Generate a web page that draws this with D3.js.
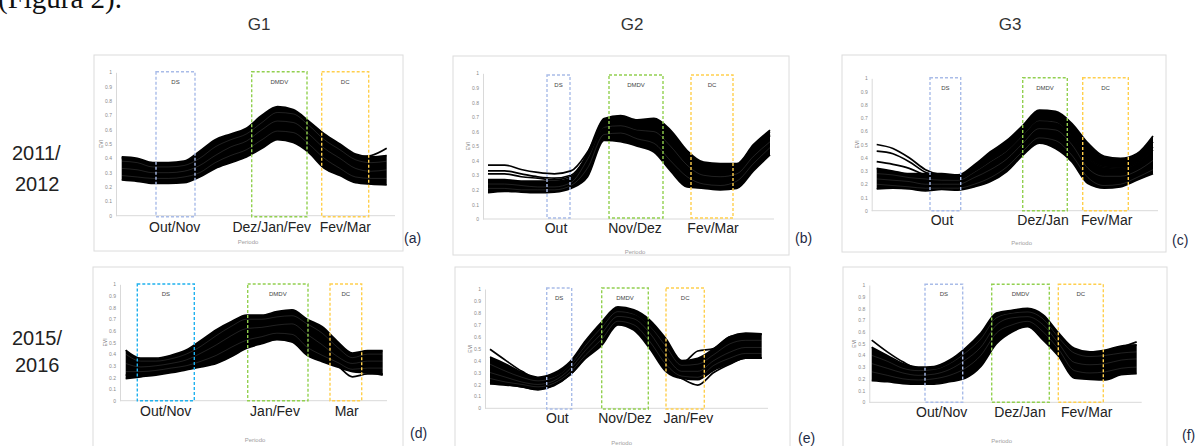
<!DOCTYPE html>
<html>
<head>
<meta charset="utf-8">
<script src="https://cdn.jsdelivr.net/npm/d3@7"></script>
<style>
body { margin: 0; background: #fff; }
svg { display: block; }
</style>
</head>
<body>
<svg id="fig" width="1195" height="446"></svg>
<script>
// EVI profiles (18 composites per season).
// eviX = curves that make up the dense black band, outX = curves that stand apart from it
var eviA = [
	[0.41,0.40,0.37,0.37,0.38,0.45,0.53,0.57,0.61,0.70,0.76,0.74,0.66,0.57,0.50,0.43,0.41,0.42],
	[0.38,0.37,0.34,0.34,0.35,0.40,0.48,0.53,0.57,0.65,0.72,0.71,0.63,0.53,0.46,0.39,0.37,0.38],
	[0.33,0.32,0.30,0.30,0.31,0.35,0.42,0.48,0.52,0.60,0.66,0.65,0.57,0.47,0.40,0.33,0.31,0.32],
	[0.28,0.27,0.26,0.26,0.27,0.30,0.37,0.42,0.46,0.53,0.59,0.58,0.50,0.40,0.33,0.27,0.26,0.26],
	[0.25,0.24,0.225,0.225,0.23,0.27,0.33,0.37,0.41,0.47,0.53,0.51,0.44,0.33,0.28,0.23,0.22,0.215]
];
var outA = [
	[0.40,0.39,0.36,0.36,0.37,0.42,0.50,0.55,0.60,0.68,0.74,0.73,0.65,0.56,0.48,0.41,0.42,0.47]
];
var eviB = [
	[0.27,0.27,0.26,0.26,0.26,0.28,0.45,0.69,0.71,0.68,0.69,0.61,0.47,0.39,0.38,0.38,0.51,0.61],
	[0.24,0.24,0.23,0.22,0.22,0.25,0.41,0.63,0.64,0.61,0.60,0.50,0.37,0.30,0.29,0.31,0.43,0.53],
	[0.21,0.21,0.20,0.20,0.20,0.23,0.35,0.58,0.59,0.55,0.52,0.40,0.29,0.24,0.23,0.26,0.38,0.49],
	[0.18,0.19,0.185,0.18,0.185,0.21,0.29,0.54,0.53,0.50,0.46,0.33,0.22,0.21,0.20,0.21,0.33,0.44]
];
var outB = [
	[0.37,0.37,0.34,0.32,0.31,0.33,0.46,0.66,0.70,0.66,0.68,0.58,0.45,0.37,0.36,0.37,0.50,0.60],
	[0.33,0.33,0.31,0.29,0.28,0.30,0.44,0.65,0.68,0.63,0.66,0.55,0.42,0.34,0.33,0.35,0.48,0.58],
	[0.31,0.31,0.29,0.28,0.27,0.29,0.43,0.64,0.67,0.62,0.64,0.52,0.40,0.33,0.31,0.34,0.47,0.57]
];
var eviC = [
	[0.32,0.30,0.28,0.28,0.28,0.27,0.345,0.445,0.53,0.645,0.76,0.75,0.66,0.51,0.41,0.395,0.43,0.565],
	[0.28,0.27,0.25,0.24,0.23,0.23,0.29,0.37,0.45,0.57,0.68,0.67,0.57,0.40,0.33,0.32,0.36,0.46],
	[0.24,0.23,0.22,0.20,0.20,0.20,0.25,0.31,0.39,0.51,0.62,0.61,0.50,0.32,0.26,0.26,0.30,0.38],
	[0.20,0.19,0.18,0.17,0.17,0.17,0.20,0.25,0.33,0.45,0.55,0.53,0.42,0.25,0.19,0.20,0.25,0.31],
	[0.165,0.17,0.165,0.15,0.16,0.155,0.18,0.22,0.295,0.42,0.51,0.47,0.37,0.205,0.17,0.18,0.23,0.28]
];
var outC = [
	[0.50,0.47,0.40,0.31,0.27,0.26,0.33,0.42,0.50,0.62,0.73,0.72,0.62,0.46,0.38,0.37,0.40,0.52],
	[0.45,0.43,0.37,0.29,0.26,0.25,0.32,0.40,0.48,0.60,0.70,0.69,0.58,0.42,0.35,0.34,0.38,0.48],
	[0.37,0.35,0.32,0.27,0.25,0.24,0.30,0.38,0.46,0.58,0.69,0.68,0.57,0.40,0.33,0.32,0.36,0.46]
];
var eviD = [
	[0.435,0.365,0.365,0.39,0.435,0.52,0.61,0.68,0.735,0.735,0.765,0.78,0.70,0.635,0.51,0.41,0.43,0.43],
	[0.40,0.34,0.34,0.36,0.40,0.47,0.56,0.64,0.70,0.70,0.72,0.73,0.66,0.58,0.46,0.37,0.40,0.40],
	[0.32,0.29,0.30,0.32,0.35,0.41,0.48,0.56,0.62,0.63,0.65,0.66,0.57,0.48,0.38,0.32,0.34,0.34],
	[0.25,0.25,0.26,0.28,0.30,0.34,0.39,0.46,0.52,0.55,0.58,0.57,0.46,0.39,0.33,0.27,0.28,0.28],
	[0.19,0.205,0.22,0.24,0.265,0.29,0.32,0.38,0.45,0.49,0.525,0.505,0.39,0.335,0.29,0.25,0.24,0.22]
];
var outD = [
	[0.22,0.23,0.24,0.26,0.28,0.31,0.34,0.40,0.46,0.50,0.53,0.51,0.40,0.345,0.30,0.205,0.23,0.23]
];
var eviE = [
	[0.43,0.37,0.30,0.26,0.295,0.39,0.57,0.725,0.85,0.825,0.74,0.585,0.40,0.42,0.50,0.60,0.63,0.625],
	[0.37,0.31,0.26,0.23,0.26,0.36,0.53,0.68,0.81,0.79,0.69,0.52,0.36,0.37,0.45,0.54,0.57,0.57],
	[0.30,0.26,0.22,0.20,0.23,0.33,0.49,0.63,0.77,0.75,0.63,0.44,0.31,0.31,0.40,0.47,0.51,0.51],
	[0.25,0.22,0.20,0.18,0.21,0.30,0.45,0.58,0.73,0.70,0.56,0.37,0.27,0.26,0.36,0.42,0.46,0.46],
	[0.205,0.195,0.18,0.155,0.195,0.28,0.42,0.53,0.70,0.655,0.50,0.31,0.25,0.24,0.32,0.375,0.42,0.42]
];
var outE = [
	[0.495,0.40,0.31,0.25,0.27,0.37,0.55,0.70,0.83,0.80,0.70,0.55,0.38,0.48,0.50,0.60,0.62,0.62],
	[0.22,0.20,0.18,0.16,0.19,0.28,0.43,0.55,0.71,0.67,0.52,0.33,0.25,0.195,0.30,0.37,0.42,0.42]
];
var eviF = [
	[0.47,0.40,0.33,0.30,0.305,0.36,0.46,0.59,0.76,0.785,0.80,0.745,0.59,0.46,0.43,0.445,0.48,0.49],
	[0.40,0.35,0.29,0.27,0.28,0.33,0.42,0.54,0.72,0.76,0.77,0.71,0.55,0.42,0.39,0.40,0.42,0.43],
	[0.33,0.29,0.25,0.23,0.24,0.28,0.36,0.47,0.66,0.72,0.73,0.66,0.50,0.34,0.32,0.33,0.36,0.37],
	[0.26,0.23,0.20,0.19,0.20,0.23,0.29,0.40,0.59,0.66,0.69,0.60,0.45,0.27,0.25,0.26,0.29,0.30],
	[0.185,0.175,0.16,0.155,0.155,0.175,0.205,0.305,0.50,0.60,0.645,0.53,0.39,0.205,0.195,0.19,0.235,0.245]
];
var outF = [
	[0.53,0.43,0.345,0.29,0.29,0.34,0.44,0.57,0.74,0.77,0.79,0.73,0.57,0.44,0.42,0.44,0.47,0.515]
];

// period labels under each panel
var periodsA = ["Out/Nov", "Dez/Jan/Fev", "Fev/Mar"];
var periodsB = ["Out", "Nov/Dez", "Fev/Mar"];
var periodsC = ["Out", "Dez/Jan", "Fev/Mar"];
var periodsD = ["Out/Nov", "Jan/Fev", "Mar"];
var periodsE = ["Out", "Nov/Dez", "Jan/Fev"];
var periodsF = ["Out/Nov", "Dez/Jan", "Fev/Mar"];

var boxNames = ["DS", "DMDV", "DC"];
var groupNames = ["G1", "G2", "G3"];
var seasonNames = [["2011/", "2012"], ["2015/", "2016"]];
var panelLetters = ["(a)", "(b)", "(c)", "(d)", "(e)", "(f)"];
var eviTicks = [0, 0.1, 0.2, 0.3, 0.4, 0.5, 0.6, 0.7, 0.8, 0.9, 1];

var svg = d3.select("#fig");
var dsPale = "#a9bce8", dsBright = "#1fb1ee", green = "#92d050", amber = "#ffcf4d";

// panel geometry (pixels)
var layout = [
	{ data: eviA, extra: outA, periods: periodsA, frame: [94, 55, 403, 251], axisX: 116, yTop: 72.3, yBot: 215.7, lineX: [121.7, 386.7], axisEnd: 395,
	  boxes: [[156, 195], [251.7, 307], [321.7, 368.7]], boxY: [71.7, 216.7], dsColor: dsPale,
	  labelY: 227, labelX: [174.7, 271.7, 345.3], perX: 248, perY: 242, letterX: 404, letterY: 238 },
	{ data: eviB, extra: outB, periods: periodsB, frame: [453, 56, 789, 255], axisX: 483, yTop: 73.3, yBot: 219, lineX: [488, 770], axisEnd: 774,
	  boxes: [[547, 570], [609, 663], [691, 733]], boxY: [75, 218], dsColor: dsPale,
	  labelY: 228, labelX: [556, 635, 713], perX: 635, perY: 252, letterX: 795, letterY: 238 },
	{ data: eviC, extra: outC, periods: periodsC, frame: [842, 55, 1166, 252], axisX: 871.7, yTop: 78.3, yBot: 210.7, lineX: [876.7, 1153], axisEnd: 1158,
	  boxes: [[930, 960.7], [1022.7, 1067.3], [1082.7, 1128.3]], boxY: [77.7, 210.7], dsColor: dsPale,
	  labelY: 220, labelX: [942, 1043, 1106.7], perX: 1021.7, perY: 243, letterX: 1172, letterY: 240 },
	{ data: eviD, extra: outD, periods: periodsD, frame: [93, 267, 403, 470], axisX: 120, yTop: 284.3, yBot: 400.7, lineX: [125.7, 382.7], axisEnd: 387,
	  boxes: [[137.3, 194.3], [247.7, 308], [330, 361.7]], boxY: [284, 400.7], dsColor: dsBright,
	  labelY: 410.7, labelX: [165.7, 275, 346.7], perX: 255, perY: 440, letterX: 410, letterY: 433 },
	{ data: eviE, extra: outE, periods: periodsE, frame: [455, 267, 790, 470], axisX: 485, yTop: 289, yBot: 408.3, lineX: [490, 761.7], axisEnd: 768,
	  boxes: [[546.7, 571.7], [601.7, 648.3], [666, 704.3]], boxY: [288, 409], dsColor: dsPale,
	  labelY: 418.3, labelX: [557.3, 625, 688.3], perX: 621.7, perY: 443, letterX: 798, letterY: 438 },
	{ data: eviF, extra: outF, periods: periodsF, frame: [843, 267, 1167, 470], axisX: 869.3, yTop: 285, yBot: 402.3, lineX: [871.7, 1136.7], axisEnd: 1141.7,
	  boxes: [[925, 962.7], [991.7, 1049.3], [1058.3, 1103.3]], boxY: [284.3, 402.3], dsColor: dsPale,
	  labelY: 411.7, labelX: [941.7, 1020, 1086.7], perX: 1001.7, perY: 441, letterX: 1182, letterY: 435 }
];

// cut-off caption line from the page above
svg.append("text")
	.attr("x", -2).attr("y", 8)
	.style("font-family", "'Liberation Serif', 'DejaVu Serif', serif")
	.style("font-size", "29px").style("fill", "#111")
	.text("(Figura 2).");

// column titles
var titleX = [259, 632, 1010];
svg.selectAll("text.group").data(groupNames).enter().append("text")
	.attr("class", "group")
	.attr("x", function (d, i) { return titleX[i]; })
	.attr("y", 30)
	.attr("text-anchor", "middle")
	.style("font-family", "'Liberation Sans', Arial, sans-serif")
	.style("font-size", "17px").style("fill", "#333")
	.text(function (d) { return d; });

// season labels on the left
var seasonY = [[160, 191], [345, 372]];
seasonNames.forEach(function (pair, r) {
	pair.forEach(function (t, k) {
		svg.append("text")
			.attr("x", k === 0 ? 12 : 15)
			.attr("y", seasonY[r][k])
			.style("font-family", "'Liberation Sans', Arial, sans-serif")
			.style("font-size", "20px").style("fill", "#222")
			.text(t);
	});
});

layout.forEach(function (p, pi) {
	var g = svg.append("g");
	var n = p.data[0].length;

	var x = d3.scaleLinear().domain([0, n - 1]).range(p.lineX);
	var y = d3.scaleLinear().domain([0, 1]).range([p.yBot, p.yTop]);

	// frame
	g.append("rect")
		.attr("x", p.frame[0]).attr("y", p.frame[1])
		.attr("width", p.frame[2] - p.frame[0]).attr("height", p.frame[3] - p.frame[1])
		.style("fill", "#fff").style("stroke", "#dcdcdc").style("stroke-width", 1);

	// y axis
	var yAxis = d3.axisLeft(y).tickValues(eviTicks).tickSize(0).tickPadding(4).tickFormat(d3.format("~g"));
	var ag = g.append("g").attr("transform", "translate(" + p.axisX + ",0)").call(yAxis);
	ag.select(".domain").style("stroke", "#d9d9d9");
	ag.selectAll("text").style("font-family", "'Liberation Sans', Arial, sans-serif")
		.style("font-size", "5px").style("fill", "#8a8a8a");

	// x axis baseline
	g.append("line")
		.attr("x1", p.axisX).attr("x2", p.axisEnd)
		.attr("y1", y(0)).attr("y2", y(0))
		.style("stroke", "#d9d9d9").style("stroke-width", 1);

	// EVI label
	g.append("text")
		.attr("transform", "translate(" + (p.axisX - 13) + "," + y(0.5) + ") rotate(-90)")
		.attr("text-anchor", "middle")
		.style("font-family", "'Liberation Sans', Arial, sans-serif")
		.style("font-size", "5px").style("fill", "#777")
		.text("EVI");

	// black band: envelope of the core profiles
	var band = d3.area()
		.x(function (d, i) { return x(i); })
		.y0(function (d, i) { return y(d3.min(p.data, function (c) { return c[i]; })); })
		.y1(function (d, i) { return y(d3.max(p.data, function (c) { return c[i]; })); })
		.curve(d3.curveMonotoneX);
	g.append("path").datum(p.data[0])
		.attr("d", band)
		.style("fill", "#000");

	var line = d3.line()
		.x(function (d, i) { return x(i); })
		.y(function (d) { return y(d); })
		.curve(d3.curveMonotoneX);

	// faint streaks inside the band
	g.selectAll("path.streak").data(p.data.slice(1, -1)).enter().append("path")
		.attr("class", "streak")
		.attr("d", line)
		.style("fill", "none").style("stroke", "#fff").style("stroke-width", 0.6).style("opacity", 0.22);

	g.selectAll("path.evi").data(p.data.filter(function (c, k) { return k === 0 || k === p.data.length - 1; }).concat(p.extra))
		.enter().append("path")
		.attr("class", "evi")
		.attr("d", line)
		.style("fill", "none").style("stroke", "#000").style("stroke-width", 1.7)
		.style("stroke-linejoin", "round");

	// DS / DMDV / DC boxes
	var colors = [p.dsColor, green, amber];
	p.boxes.forEach(function (b, k) {
		g.append("rect")
			.attr("x", b[0]).attr("y", p.boxY[0])
			.attr("width", b[1] - b[0]).attr("height", p.boxY[1] - p.boxY[0])
			.style("fill", "none").style("stroke", colors[k])
			.style("stroke-width", 1.4).style("stroke-dasharray", "3,2");
		g.append("text")
			.attr("x", (b[0] + b[1]) / 2).attr("y", p.boxY[0] + 12)
			.attr("text-anchor", "middle")
			.style("font-family", "'Liberation Sans', Arial, sans-serif")
			.style("font-size", "6px").style("fill", "#444")
			.text(boxNames[k]);
	});

	// period labels
	p.periods.forEach(function (t, k) {
		g.append("text")
			.attr("x", p.labelX[k]).attr("y", p.labelY)
			.attr("dy", "0.35em")
			.attr("text-anchor", "middle")
			.style("font-family", "'Liberation Sans', Arial, sans-serif")
			.style("font-size", "14px").style("fill", "#222")
			.text(t);
	});

	g.append("text")
		.attr("x", p.perX).attr("y", p.perY)
		.attr("dy", "0.35em")
		.attr("text-anchor", "middle")
		.style("font-family", "'Liberation Sans', Arial, sans-serif")
		.style("font-size", "6px").style("fill", "#a0a0a0")
		.text("Periodo");

	svg.append("text")
		.attr("x", p.letterX).attr("y", p.letterY)
		.attr("dy", "0.35em")
		.style("font-family", "'Liberation Sans', Arial, sans-serif")
		.style("font-size", "14px").style("fill", "#1e2a44")
		.text(panelLetters[pi]);
});
</script>
</body>
</html>
